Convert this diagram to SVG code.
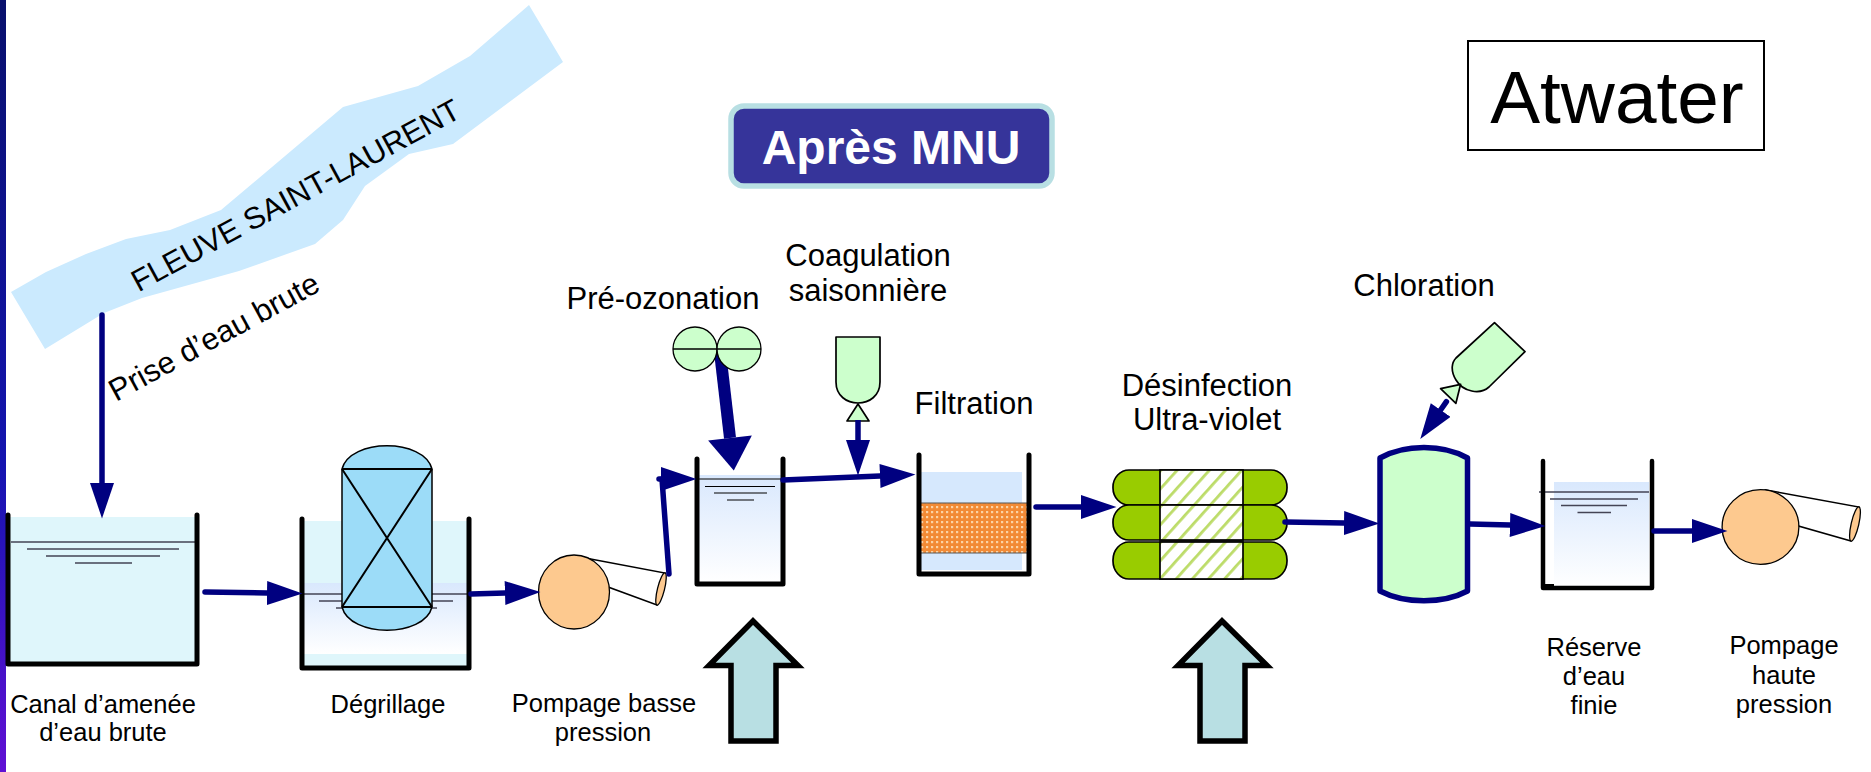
<svg xmlns="http://www.w3.org/2000/svg" width="1871" height="772" viewBox="0 0 1871 772">
<style>
text{font-family:"Liberation Sans",Arial,sans-serif;fill:#000;text-anchor:middle}
.l{font-size:31px}.s{font-size:25.5px}
.wall{fill:none;stroke:#000;stroke-width:5;stroke-linecap:round;stroke-linejoin:round}
.wl{stroke:#445;stroke-width:1.5;fill:none}
.ln{stroke:#000;stroke-width:1.5;fill:none}
.gas{fill:#ccffcc;stroke:#000;stroke-width:1.7;stroke-linejoin:round}
.pump{fill:#fdc98f;stroke:#000;stroke-width:1.3}
.tube{fill:#fff;stroke:#000;stroke-width:1.5}
.flow{fill:none;stroke:#000080;stroke-width:5.5;stroke-linecap:round;stroke-linejoin:round}
.uv{fill:#99cc00;stroke:#000;stroke-width:1.7}
.uvm{fill:url(#hatch);stroke:#000;stroke-width:1.7}
.big{fill:#b8dfe3;stroke:#000;stroke-width:5.5;stroke-miterlimit:10}
</style>
<defs>
<linearGradient id="strip" x1="0" y1="0" x2="0" y2="1"><stop offset="0" stop-color="#08106c"/><stop offset=".6" stop-color="#1414b0"/><stop offset="1" stop-color="#6010d4"/></linearGradient>
<linearGradient id="water" x1="0" y1="0" x2="0" y2="1"><stop offset="0" stop-color="#d9e8fd"/><stop offset="1" stop-color="#fff"/></linearGradient>
<pattern id="sand" width="5" height="5" patternUnits="userSpaceOnUse"><rect width="5" height="5" fill="#f28a35"/><rect x="1" y="1" width="2.2" height="2.2" fill="#fbd3a6"/></pattern>
<pattern id="hatch" width="12" height="12" patternUnits="userSpaceOnUse" patternTransform="rotate(-48)"><rect width="12" height="12" fill="#fff"/><rect width="12" height="2.8" fill="#bcdc68"/></pattern>
<marker id="head" markerUnits="userSpaceOnUse" markerWidth="36" markerHeight="24" viewBox="0 0 34 23" refX="0" refY="11.5" orient="auto"><path d="M0 0L34 11.5L0 23Z" fill="#000080"/></marker>
<marker id="headBig" markerUnits="userSpaceOnUse" markerWidth="34" markerHeight="44" viewBox="0 0 32 43" refX="0" refY="21.5" orient="auto"><path d="M0 0L32 21.5L0 43Z" fill="#000080"/></marker>
</defs>
<rect id="left-band" x="0" y="0" width="6" height="772" fill="url(#strip)"/>
<g id="fleuve">
<path fill="#cbeafe" d="M11 292L46 272L86 254L126 239L170 230L221 210L343 107L418 86L470 56L529 5L563 62L453 144L409 154L365 186L343 220L315 244L239 271L142 298L104 313L45 349Z"/>
<text transform="translate(300.500 204.500) rotate(-28.500)" style="font-size:30.600px">FLEUVE SAINT-LAURENT</text>
</g>
<text id="prise-label" transform="translate(219 346) rotate(-28.500)" style="font-size:31px">Prise d’eau brute</text>
<g id="canal">
<rect x="8" y="517" width="189" height="147" fill="#dff6fb"/>
<path class="wl" d="M11 542H196M27 549H179M46 556H160M75 563H132"/>
<path class="wall" d="M8 515V664H197V515"/>
<text class="s" x="103" y="713">Canal d’amenée</text><text class="s" x="103" y="741">d’eau brute</text>
</g>
<g id="degrillage">
<rect x="303" y="521" width="165" height="145" fill="#dff6fb"/>
<rect x="304" y="583" width="163" height="71" fill="url(#water)"/>
<path class="wl" d="M304 594H467M319 601H453M336 608H437"/>
<path class="wall" d="M302 519V668H469V519"/>
<path d="M342 469C350 438 424 438 432 469V607C424 638 350 638 342 607Z" fill="#9cdcf8" stroke="#000" stroke-width="1.5"/>
<path class="ln" d="M342 469H432M342 607H432M342 469L432 607M432 469L342 607" style="stroke-width:2"/>
<text class="s" x="388" y="713">Dégrillage</text>
</g>
<g id="pompage-basse">
<path class="tube" d="M580 557L665 573L657 605L600 584Z"/>
<ellipse class="pump" cx="661" cy="589" rx="3.500" ry="16.500" transform="rotate(14 661 589)"/>
<ellipse class="pump" cx="574" cy="592" rx="35.500" ry="37"/>
<text class="s" x="604" y="712">Pompage basse</text><text class="s" x="603" y="741">pression</text>
</g>
<g id="pre-ozonation-bassin">
<rect x="699" y="475" width="82" height="107" fill="url(#water)"/>
<path class="ln" d="M699 479H783M705 486.500H775M714 493H767M727 500H754" style="stroke-width:1.2"/>
<path class="wall" d="M697 459V584H783V459"/>
<text class="l" x="663" y="309">Pré-ozonation</text>
</g>
<g id="coagulation">
<path class="gas" d="M836 337H880V382C880 410 836 410 836 382Z"/>
<path class="gas" d="M858 404L847 421H869Z"/>
<text class="l" x="868" y="266">Coagulation</text><text class="l" x="868" y="301">saisonnière</text>
</g>
<g id="filtration">
<rect x="921" y="472" width="101" height="98" fill="#d6e8fd"/>
<rect x="919" y="503" width="110" height="50" fill="url(#sand)" stroke="#555" stroke-width="1"/>
<path class="wall" d="M919 455V574H1029V455"/>
<text class="l" x="974" y="414">Filtration</text>
</g>
<g id="desinfection-uv">
<rect class="uv" x="1113" y="470" width="174" height="35" rx="16" ry="17"/>
<rect class="uv" x="1113" y="505" width="174" height="35" rx="16" ry="17"/>
<rect class="uv" x="1113" y="542" width="174" height="37" rx="16" ry="18"/>
<rect class="uvm" x="1160" y="470" width="83" height="35"/>
<rect class="uvm" x="1160" y="505" width="83" height="35"/>
<rect class="uvm" x="1160" y="542" width="83" height="37"/>
<text class="l" x="1207" y="396">Désinfection</text><text class="l" x="1207" y="430">Ultra-violet</text>
</g>
<g id="chloration">
<path d="M1380 458C1405 444 1443 444 1467.500 458V591C1443 604 1405 604 1380 591Z" fill="#ccffcc" stroke="#000080" stroke-width="5.500" stroke-linejoin="round"/>
<path class="gas" d="M1494.500 322.700L1525 351.700L1489 387C1480 395 1463 392 1456 380C1450 370 1452 362 1456 358Z"/>
<path class="gas" d="M1460.600 384.300L1440.600 388.700L1455.900 403.300Z"/>
<text class="l" x="1424" y="296">Chloration</text>
</g>
<g id="reserve">
<rect x="1554" y="482" width="95" height="105" fill="url(#water)"/>
<path class="wl" d="M1539 492H1649M1550 499H1638M1561 505.500H1627M1577.500 512.500H1611"/>
<path d="M1543 461V588H1652V461" fill="none" stroke="#000" stroke-width="4.500" stroke-linecap="round" stroke-linejoin="round"/>
<rect x="1543" y="584" width="11" height="4"/>
<text class="s" x="1594" y="656" style="font-size:25.500px">Réserve</text><text class="s" x="1594" y="685">d’eau</text><text class="s" x="1594" y="714">finie</text>
</g>
<g id="pompage-haute">
<path class="tube" d="M1766 490L1859 507L1851 541L1795 525Z"/>
<ellipse class="pump" cx="1855" cy="524" rx="3.800" ry="17.500" transform="rotate(13 1855 524)"/>
<ellipse class="pump" cx="1760.500" cy="527" rx="38.400" ry="37.300"/>
<text class="s" x="1784" y="654">Pompage</text><text class="s" x="1784" y="684">haute</text><text class="s" x="1784" y="713">pression</text>
</g>
<g id="connectors">
<path class="flow" d="M102 315V483" marker-end="url(#head)"/>
<path class="flow" d="M205 592L267 593" marker-end="url(#head)"/>
<path class="flow" d="M471 594L505 593" marker-end="url(#head)"/>
<path class="flow" d="M669 574L662 479"/>
<path class="flow" d="M659 479H661" marker-end="url(#head)"/>
<path class="flow" d="M720 352L730 438" style="stroke-width:12;stroke-linecap:butt" marker-end="url(#headBig)"/>
<path class="flow" d="M858 420V440" marker-end="url(#head)" style="stroke-linecap:butt"/>
<path class="flow" d="M783 480L880 476" marker-end="url(#head)"/>
<path class="flow" d="M1036 507H1081" marker-end="url(#head)"/>
<path class="flow" d="M1285 522L1344 523" marker-end="url(#head)"/>
<path class="flow" d="M1446.400 401.700L1440.600 410" marker-end="url(#head)"/>
<path class="flow" d="M1470 524L1510 525" marker-end="url(#head)"/>
<path class="flow" d="M1654 531H1692" marker-end="url(#head)"/>
</g>
<g id="ozone">
<circle class="gas" cx="695" cy="349" r="22" style="stroke-width:1.3"/>
<circle class="gas" cx="739" cy="349" r="22" style="stroke-width:1.3"/>
<path class="ln" d="M673 349H761"/>
</g>
<path id="big-arrow-1" class="big" d="M753 621L709 665.500H731V741H776V665.500H798Z"/>
<path id="big-arrow-2" class="big" d="M1222 621L1178 665.500H1200V741H1245V665.500H1267Z"/>
<g id="titre">
<rect x="731" y="106" width="321" height="80" rx="13" fill="#36349a" stroke="#b8dfe3" stroke-width="5.500"/>
<text x="891" y="164" style="font-size:48px;font-weight:bold;fill:#fff">Après MNU</text>
</g>
<g id="atwater">
<rect x="1468" y="41" width="296" height="109" fill="#fff" stroke="#000" stroke-width="2"/>
<text x="1617" y="123" style="font-size:74.800px">Atwater</text>
</g>
</svg>
